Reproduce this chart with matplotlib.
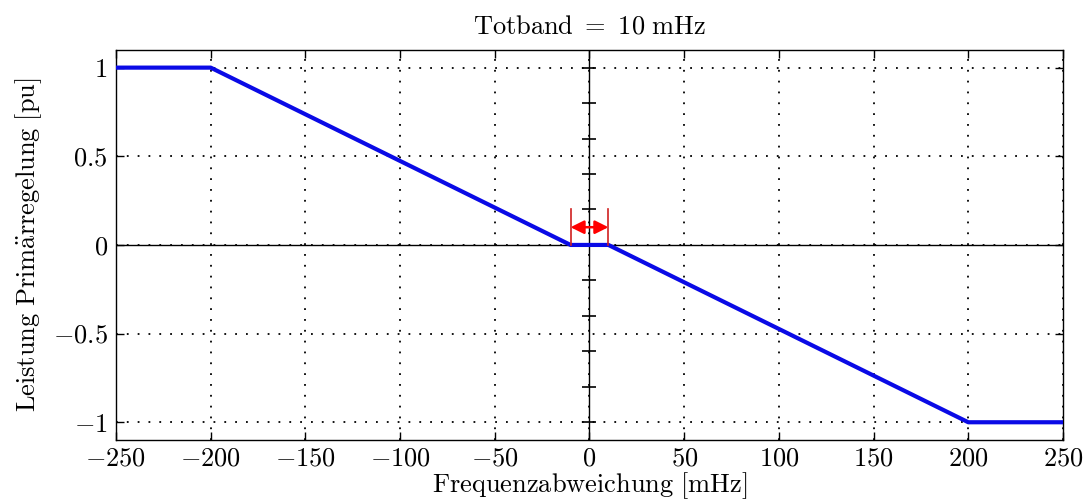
import numpy as np
import matplotlib.pyplot as plt

plt.rcParams['font.family'] = ['cmr10', 'DejaVu Serif']
plt.rcParams['mathtext.fontset'] = 'cm'
plt.rcParams['axes.formatter.use_mathtext'] = True

# Kennlinie Primärregelung
freq = [-250, -200, -10, 10, 200, 250]
power = [1, 1, 0, 0, -1, -1]
deadband = 10
x_ticks = [-250, -200, -150, -100, -50, 0, 50, 100, 150, 200, 250]
y_ticks = [-1, -0.5, 0, 0.5, 1]
y_ticklabels = [r'$-1$', r'$-0.5$', r'$0$', r'$0.5$', r'$1$']
center_ticks = [-1, -0.8, -0.6, -0.4, -0.2, 0.2, 0.4, 0.6, 0.8, 1]

fig = plt.figure(figsize=(10.88, 5.04), dpi=100)
ax = fig.add_axes([0.1066, 0.127, 0.8704, 0.774])

ax.set_xlim(-250, 250)
ax.set_ylim(-1.1, 1.1)
ax.set_xticks(x_ticks)
ax.set_xticklabels([r'$%d$' % t if t >= 0 else r'$-%d$' % -t for t in x_ticks])
ax.set_yticks(y_ticks)
ax.set_yticklabels(y_ticklabels)
ax.tick_params(direction='in', top=True, right=True, length=6, width=1,
               labelsize=19)
ax.tick_params(axis='x', pad=5)
ax.tick_params(axis='y', pad=6)
for s in ax.spines.values():
    s.set_linewidth(1.0)

ax.grid(True, color='black', linestyle=(0, (1, 5)), linewidth=1.3)
ax.axhline(0, color='black', linewidth=1.0, zorder=2)
ax.axvline(0, color='black', linewidth=1.0, zorder=2)
ax.plot([0] * len(center_ticks), center_ticks, linestyle='none', marker='_',
        markersize=10, markeredgewidth=1.2, color='black', zorder=2)

ax.plot(freq, power, color='#0a0ae6', linewidth=3, zorder=3)

# Totband markieren
for xd in (-deadband, deadband):
    ax.plot([xd, xd], [0, 0.2], color='#d02020', linewidth=1.2, zorder=4)
ax.annotate('', xy=(-deadband, 0.1), xytext=(deadband, 0.1),
            arrowprops=dict(arrowstyle='<|-|>', color='red', lw=1.8,
                            mutation_scale=20, shrinkA=0, shrinkB=0), zorder=4)

ax.set_title(r'$\mathrm{Totband}\ =\ 10\ \mathrm{mHz}$', fontsize=19, pad=12)
ax.set_xlabel(r'$\mathrm{Frequenzabweichung\ [mHz]}$', fontsize=19, labelpad=0)
ax.set_ylabel(r'$\mathrm{Leistung\ Prim\ddot{a}rregelung\ [pu]}$', fontsize=19,
              labelpad=6)

fig.savefig('out.png', dpi=100)
